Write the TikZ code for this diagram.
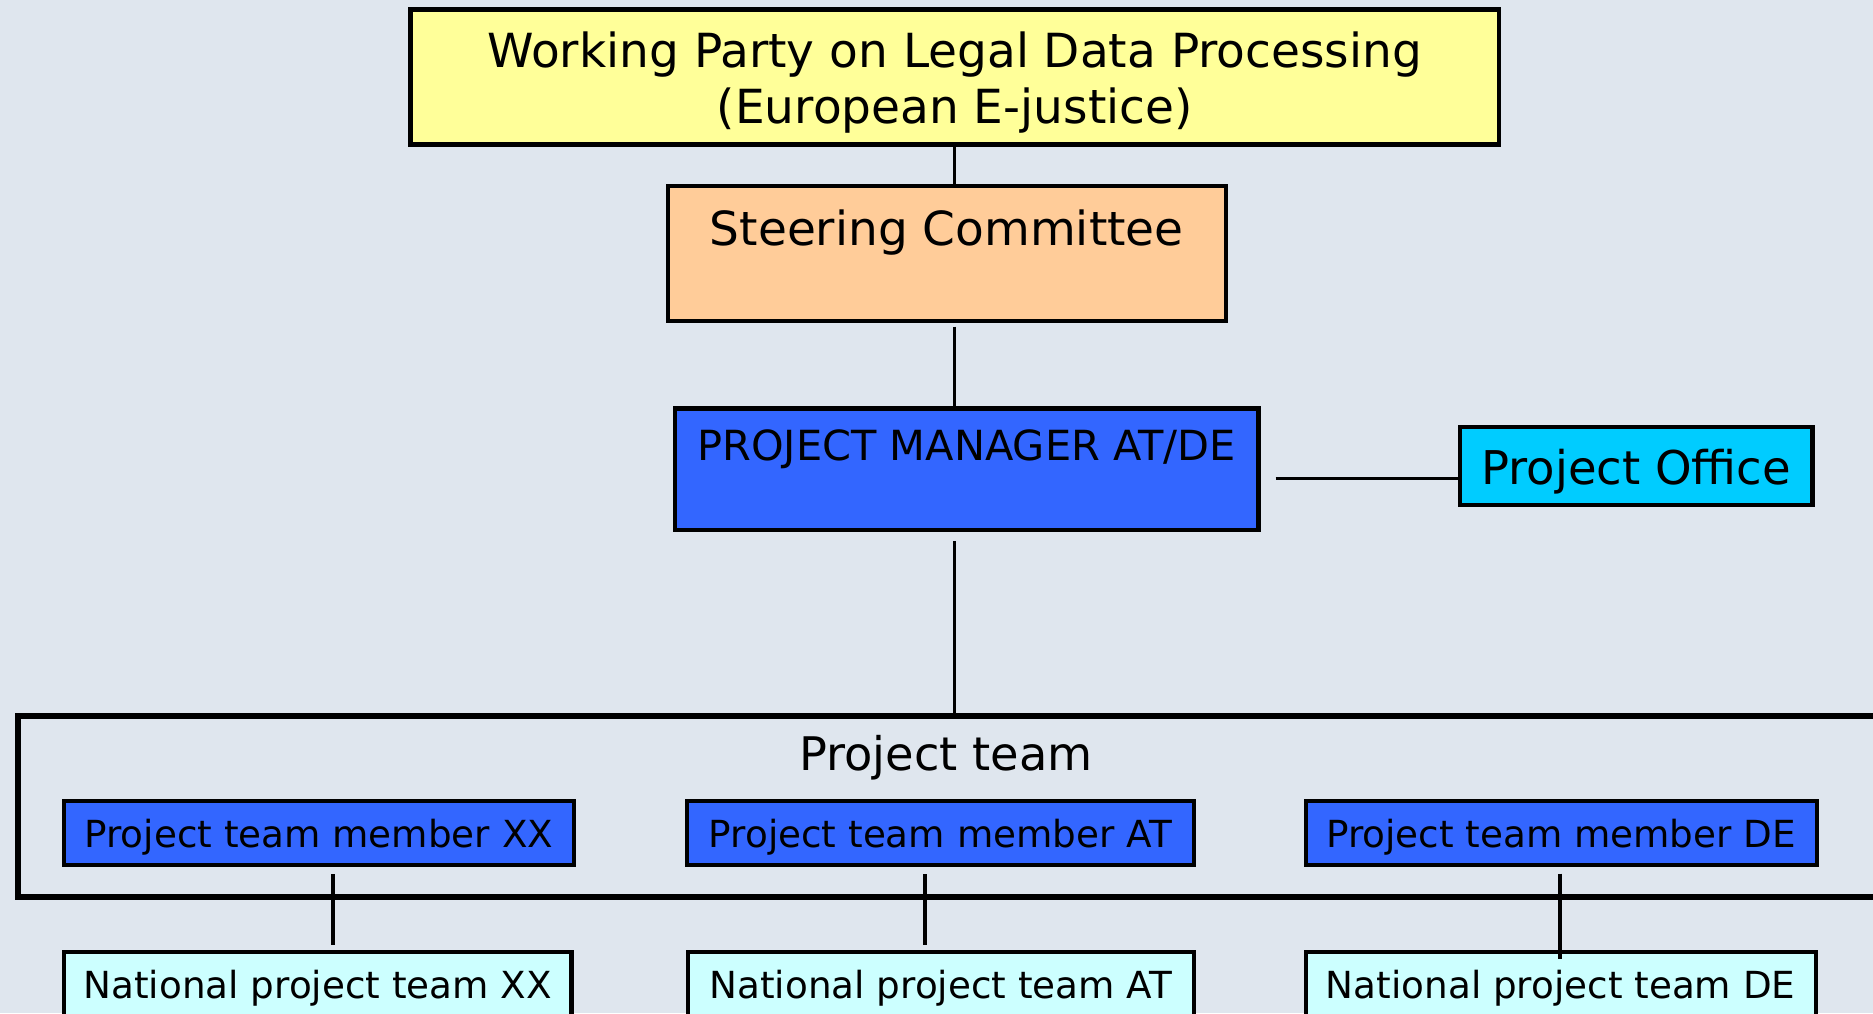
\documentclass[tikz,border=0pt]{standalone}
\usepackage{fontspec}
\setmainfont{DejaVu Sans}
\usetikzlibrary{calc}
\definecolor{bg}{RGB}{223,230,238}
\definecolor{wpfill}{RGB}{255,255,153}
\definecolor{scfill}{RGB}{255,204,153}
\definecolor{pmfill}{RGB}{51,102,255}
\definecolor{pofill}{RGB}{0,204,255}
\definecolor{npfill}{RGB}{204,255,255}
\begin{document}
\begin{tikzpicture}[x=1pt,y=-1pt,
  box/.style={draw=black, line width=4.3pt, rectangle, inner sep=0pt, anchor=north west},
  conn/.style={draw=black, line width=3.5pt},
  bigfont/.style={font=\fontsize{47pt}{56.4pt}\selectfont},
  smallfont/.style={font=\fontsize{37.3pt}{44.8pt}\selectfont},
  member/.style={box, fill=pmfill, smallfont, minimum height=64.3pt, text height=47pt, text depth=17.3pt},
  national/.style={box, fill=npfill, smallfont, minimum height=64.3pt, text height=46.7pt, text depth=17.6pt},
]
\useasboundingbox (0,0) rectangle (1873,1013);
\clip (0,0) rectangle (1873,1013);
\fill[bg] (0,0) rectangle (1873,1013);

\node[box, fill=wpfill, bigfont, minimum width=1088.5pt, minimum height=135pt, text height=57.8pt, text depth=77.2pt] (wp) at (408.3,7.2)
  {\begin{tabular}[t]{@{}c@{}}Working Party on Legal Data Processing\\(European E-justice)\end{tabular}};
\node[box, fill=scfill, bigfont, minimum width=558.3pt, minimum height=134.8pt, text height=59pt, text depth=75.8pt] (sc) at (665.5,184) {Steering Committee};
\node[box, fill=pmfill, font=\fontsize{41.5pt}{50pt}\selectfont, minimum width=583.4pt, minimum height=121.3pt, text height=51.8pt, text depth=69.5pt] (pm) at (672.8,406.2) {PROJECT MANAGER AT/DE};
\node[box, fill=pofill, font=\fontsize{46.5pt}{56pt}\selectfont, minimum width=352.3pt, minimum height=78pt, text height=57.3pt, text depth=20.7pt] (po) at (1458,424.7) {Project Office};

\node[draw=black, line width=6pt, rectangle, inner sep=0pt, anchor=north west, minimum width=1900pt, minimum height=180.7pt] (team) at (14.7,713) {};
\node[anchor=base, inner sep=0pt, font=\fontsize{46.3pt}{55pt}\selectfont] (teamlabel) at (946,770) {Project team};

\node[member, minimum width=509.5pt] (mXX) at (62,798.7) {Project team member XX};
\node[member, minimum width=506.5pt] (mAT) at (685,798.7) {Project team member AT};
\node[member, minimum width=511pt] (mDE) at (1303.5,798.7) {Project team member DE};

\node[national, minimum width=507.5pt] (nXX) at (61.8,950) {National project team XX};
\node[national, minimum width=506pt] (nAT) at (685.7,950) {National project team AT};
\node[national, minimum width=510pt] (nDE) at (1303.5,950) {National project team DE};

\draw[conn] (wp.south) -- ($(wp.south |- sc.north)+(0,4)$);
\draw[conn] ($(wp.south |- sc.south)+(0,3.5)$) -- (wp.south |- pm.north);
\draw[conn] ($(pm.east)+(15,9.3)$) coordinate (h1) -- (h1 -| po.west);
\draw[conn] ($(wp.south |- pm.south)+(0,9.5)$) -- ($(wp.south |- team.north)+(0,5)$);

\draw[conn] ($(mXX.south)+(14,7)$) coordinate (v1) -- ($(v1 |- nXX.north)+(0,-5)$);
\draw[conn] ($(mAT.south)+(-15.5,7)$) coordinate (v2) -- ($(v2 |- nAT.north)+(0,-5)$);
\draw[conn] ($(mDE.south)+(-1.3,6.3)$) coordinate (v3) -- ($(v3 |- nDE.north)+(0,9.3)$);
\end{tikzpicture}
\end{document}
